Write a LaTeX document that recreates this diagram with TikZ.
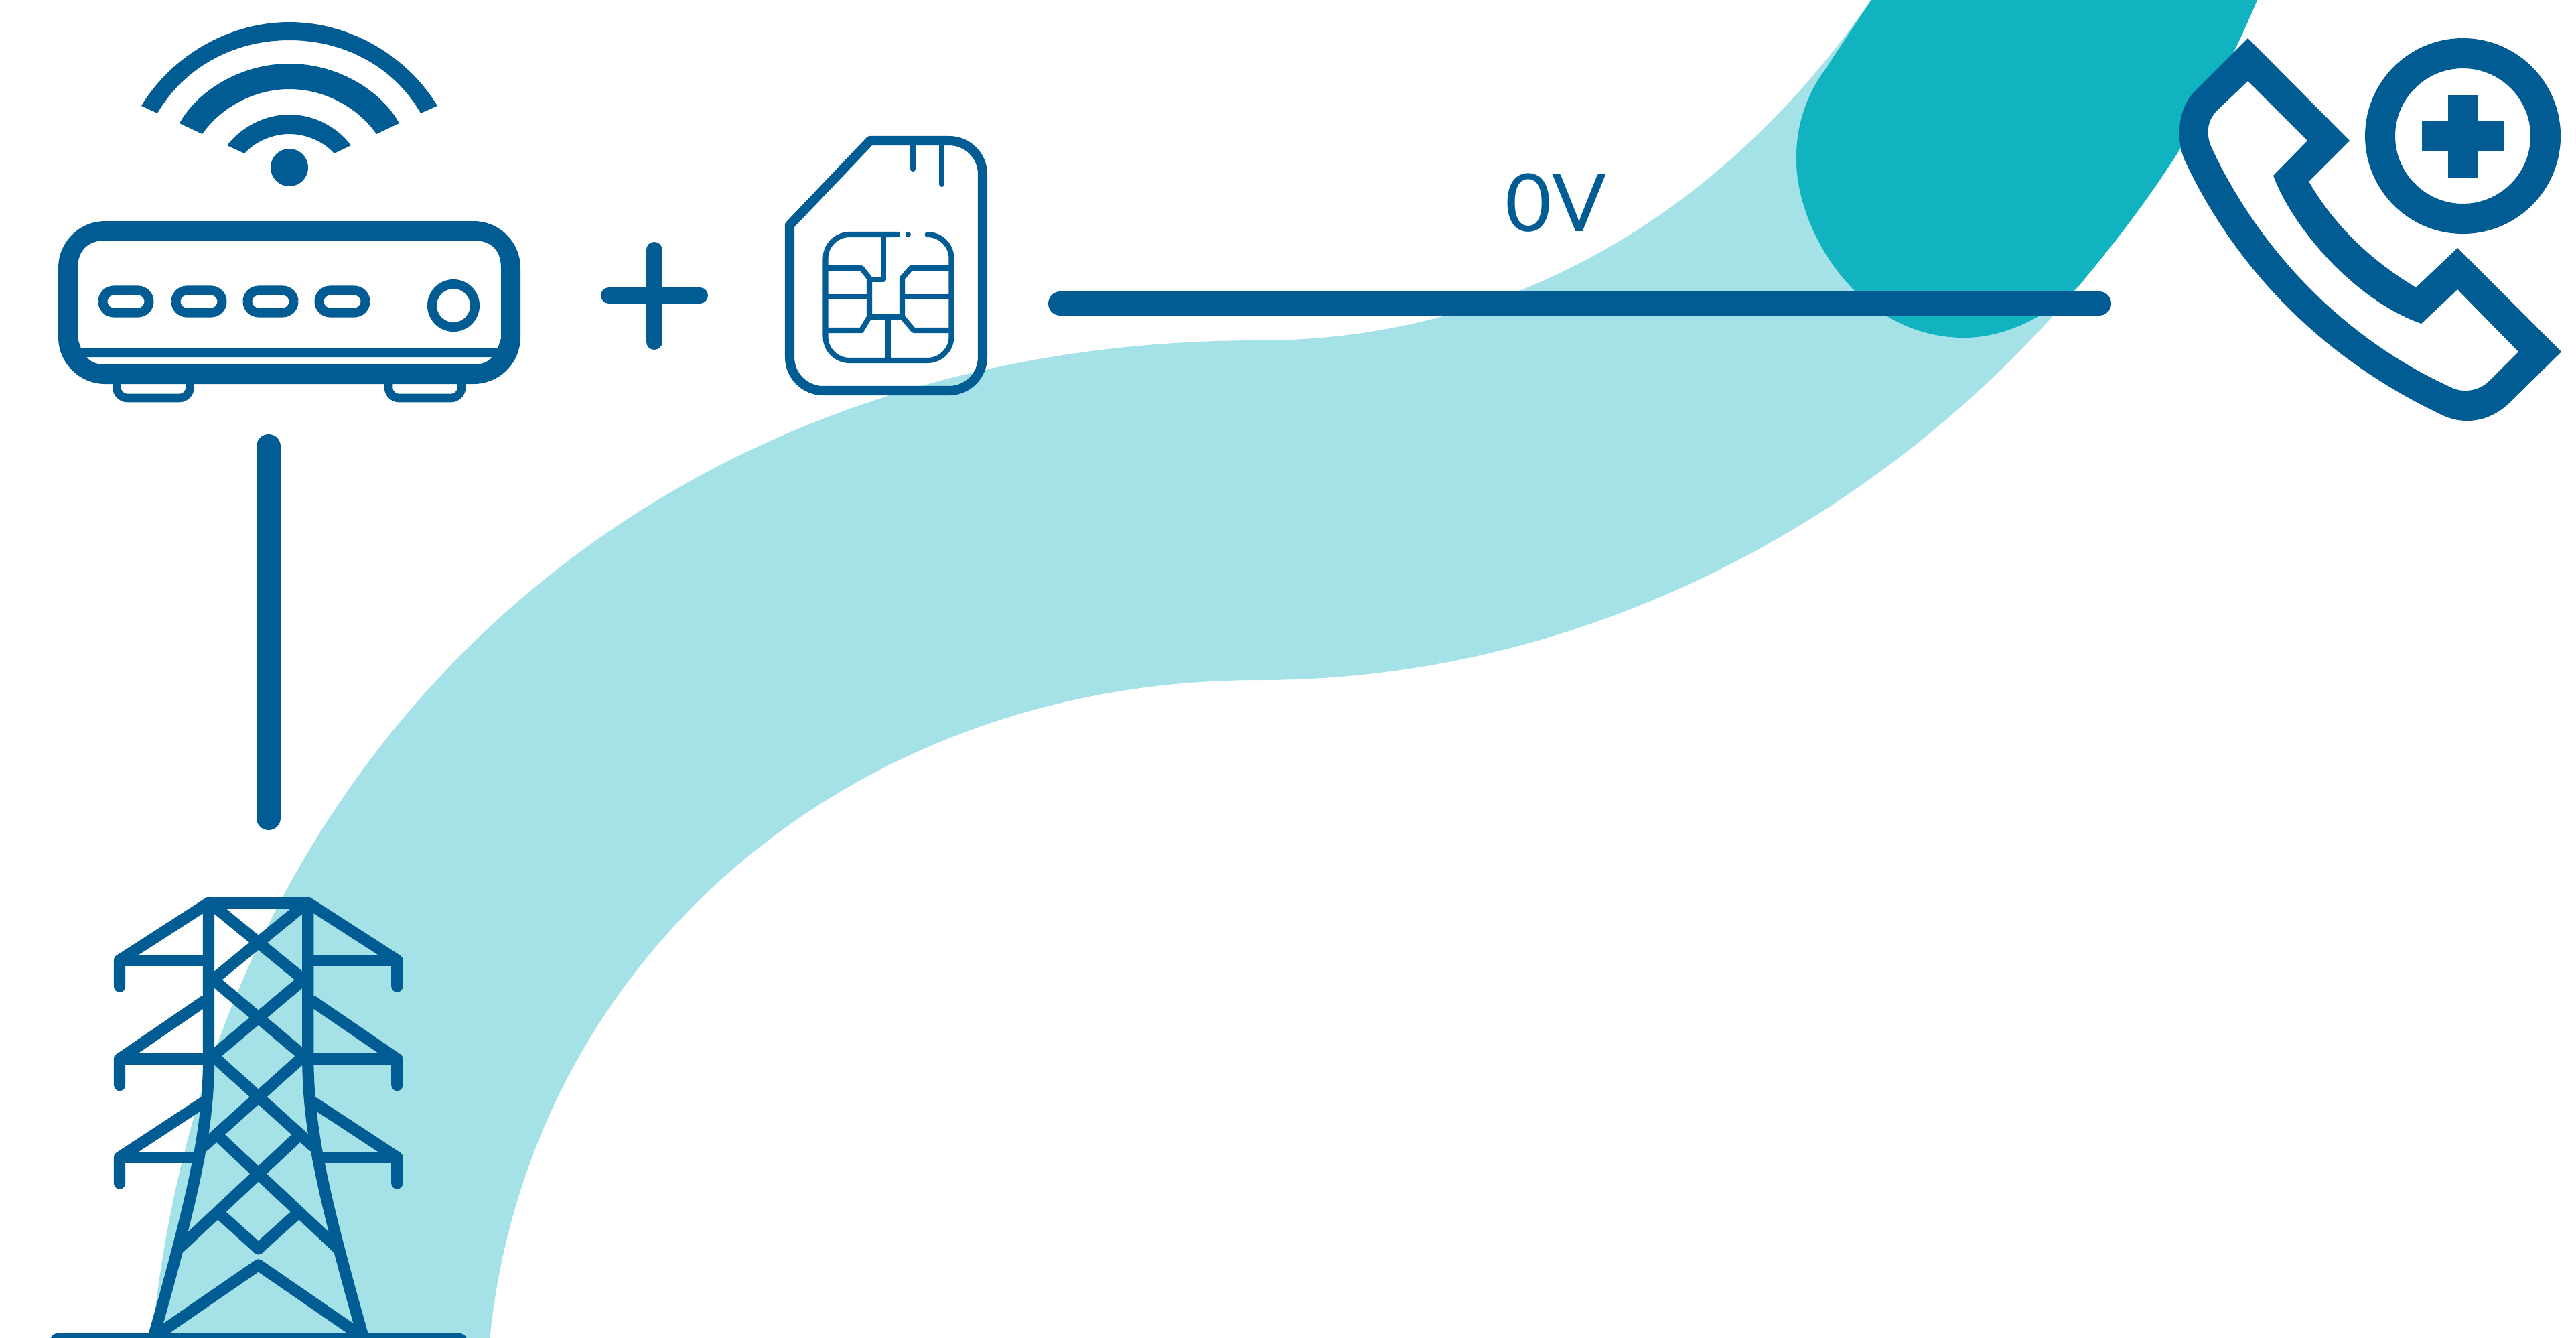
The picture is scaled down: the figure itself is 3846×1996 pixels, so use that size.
\documentclass[tikz,border=0pt]{standalone}
\usepackage{fontspec}
\usepackage{xcolor}
\usetikzlibrary{positioning}
\newfontfamily\voltfont{Lato}
\definecolor{navy}{RGB}{1,92,148}
\definecolor{tealdark}{RGB}{18,179,193}
\definecolor{teallight}{RGB}{165,226,232}
\tikzset{
  bar/.style={draw=navy, line width=10.24pt, line cap=round},
  towerline/.style={draw=navy, line width=4.9pt, line cap=round, line join=round},
  simline/.style={draw=navy, line width=4pt, line cap=round, line join=round},
  chipline/.style={draw=navy, line width=2.3pt, line cap=round, line join=round},
  pill/.style={draw=navy, line width=4pt, rounded corners=4.7pt},
  solidicon/.style={fill=navy, even odd rule},
  volt/.style={font=\voltfont\fontsize{34pt}{34pt}\selectfont, text=navy, inner sep=0pt},
}
\begin{document}
\begin{tikzpicture}[x=0.01cm, y=-0.01cm]
  \useasboundingbox (0,0) rectangle (3846,1996);
  \clip (0,0) rectangle (3846,1996);

  % Bands behind the icons
  \fill[teallight] (227,2000) .. controls (310,1130) and (960,508) .. (1880,508)
    .. controls (2230,508) and (2560,340) .. (2797,-5) -- (3372,-5) -- (3110,420)
    .. controls (2800,790) and (2350,1015) .. (1880,1015)
    .. controls (1270,1015) and (788,1430) .. (731,2000) -- cycle;
  \fill[tealdark] (2797,-5) -- (2722,108) .. controls (2695,145) and (2680,195) .. (2682,243)
    .. controls (2684,345) and (2775,504) .. (2933,504)
    .. controls (2990,504) and (3055,475) .. (3105,425)
    .. controls (3210,300) and (3300,170) .. (3372,-5) -- cycle;

  % Wifi
  \fill[solidicon] (211,158) .. controls (255,85) and (340,33) .. (432,33)
    .. controls (524,33) and (609,85) .. (653,158) -- (628,169)
    .. controls (589,100) and (514,60) .. (432,60)
    .. controls (350,60) and (275,100) .. (235,169) -- cycle;
  \fill[solidicon] (268,184) .. controls (295,135) and (360,95) .. (432,95)
    .. controls (504,95) and (569,135) .. (596,184) -- (562,200)
    .. controls (534,160) and (484,133) .. (432,133)
    .. controls (380,133) and (330,160) .. (302,200) -- cycle;
  \fill[solidicon] (339,217) .. controls (360,190) and (395,171) .. (432,171)
    .. controls (469,171) and (504,190) .. (524,217) -- (499,229)
    .. controls (484,212) and (458,200) .. (432,200)
    .. controls (406,200) and (380,212) .. (365,229) -- cycle;
  \fill[navy] (432,250) circle[radius=28];

  % Router
  \foreach \fx in {174.5,580}
    \draw[towerline, line width=3.6pt, rounded corners=4.5pt] (\fx,565) -- (\fx,594) -- ({\fx+109},594) -- ({\fx+109},565);
  \fill[solidicon] [rounded corners=19.9pt] (87,330) rectangle (777,573) [sharp corners]
    (116,400) .. controls (116,375) and (130,359) .. (157,359) -- (707,359)
    .. controls (735,359) and (748,375) .. (748,400) -- (748,505) -- (743,520) -- (121,520) -- (116,505) -- cycle
    (129,533) -- (735,533) .. controls (728,540) and (722,544) .. (705,544) -- (159,544)
    .. controls (142,544) and (136,540) .. (129,533) -- cycle;
  \foreach \px in {147,256,363,470}
    \draw[pill] ({\px+6.5},433.5) rectangle ({\px+75.5},466.5);
  \draw[navy, line width=4pt] (677,456) circle[radius=32];

  % Plus sign
  \draw[bar, line width=6.83pt] (976.5,373) -- (976.5,510);
  \draw[bar, line width=6.83pt] (909,441) -- (1045,441);

  % SIM card
  \draw[simline] (1179,336) -- (1299,210) -- (1380,210) [rounded corners=14.2pt] -- (1467,210)
    -- (1467,583) -- (1179,583) -- (1179,450) [sharp corners] -- cycle;
  \draw[chipline] (1363,210) -- (1363,252);
  \draw[chipline] (1406,210) -- (1406,275);
  \draw[chipline, rounded corners=10.2pt] (1340,350) -- (1232.5,350) -- (1232.5,538)
    -- (1420.5,538) -- (1420.5,350) -- (1385,350);
  \fill[navy] (1356,350) circle[radius=4];
  \draw[chipline] (1233,400) -- (1286,400) -- (1298,415) -- (1298,473) -- (1347,473)
    -- (1347,415) -- (1360,400) -- (1420,400);
  \draw[chipline] (1319,350) -- (1319,417) -- (1298,417);
  \draw[chipline] (1233,443) -- (1298,443);
  \draw[chipline] (1347,443) -- (1420,443);
  \draw[chipline] (1233,493) -- (1286,493) -- (1298,473);
  \draw[chipline] (1420,493) -- (1364,493) -- (1347,473);
  \draw[chipline] (1326,473) -- (1326,538);

  % Pylon, one side and its mirror image
  \foreach \sx/\dx in {1/0,-1/771.4} {
    \begin{scope}[shift={(\dx,0)}, xscale=\sx]
      \draw[towerline] (178.6,1472.2) -- (178.6,1433.2) -- (311.6,1347.5);
      \draw[towerline] (178.6,1433.2) -- (311.6,1433.2);
      \draw[towerline] (178.6,1619.6) -- (178.6,1580.5) -- (304.5,1494.4);
      \draw[towerline] (178.6,1580.5) -- (311.6,1580.5);
      \draw[towerline] (178.6,1766) -- (178.6,1727.4) -- (302.2,1646.2);
      \draw[towerline] (178.6,1727.4) -- (296.9,1727.4);
      \draw[towerline] (311.6,1347.5) -- (311.6,1588) .. controls (310,1690) and (290,1780) .. (228,2000);
      \draw[towerline] (313.4,1347.5) -- (453.1,1462) -- (317.9,1576) -- (467.4,1710.6);
      \draw[towerline] (447.3,1694) -- (268.8,1861.5);
      \draw[towerline] (326.8,1810.4) -- (385.7,1863.7);
      \draw[towerline] (385.7,1888) -- (230.8,1994.6);
    \end{scope}
  }
  \draw[towerline] (311.6,1347.5) -- (459.8,1347.5);
  \fill[navy, rounded corners=3pt] (75,1990) rectangle (697,2030);

  % Links
  \coordinate (linkleft) at (1583,453);
  \coordinate (linkright) at (3134,453);
  \coordinate (linktop) at (401,666);
  \coordinate (linkbottom) at (401,1221);
  \draw[bar] (linkleft) -- (linkright);
  \draw[bar] (linktop) -- (linkbottom);

  \node[volt] (voltage) at (2323,303) {0V};

  % Phone
  \fill[solidicon] (3356,57) -- (3508,210) -- (3447,271) .. controls (3490,345) and (3550,395) .. (3607,429)
    -- (3669,370) -- (3824,525) -- (3748,600) .. controls (3715,632) and (3675,635) .. (3641,617)
    .. controls (3470,535) and (3340,405) .. (3262,240) .. controls (3247,205) and (3252,160) .. (3278,135) -- cycle
    (3356,121) -- (3445,210) -- (3394,262) .. controls (3425,345) and (3520,450) .. (3615,483)
    -- (3669,432) -- (3760,525) -- (3717,568) .. controls (3700,585) and (3675,587) .. (3657,577)
    .. controls (3500,505) and (3375,375) .. (3303,223) .. controls (3292,200) and (3295,178) .. (3313,162) -- cycle;
  \draw[navy, line width=12.8pt] (3677,203) circle[radius=123.5];
  \fill[navy] (3655,142) rectangle (3700,265);
  \fill[navy] (3616,181) rectangle (3739,226);
\end{tikzpicture}
\end{document}
